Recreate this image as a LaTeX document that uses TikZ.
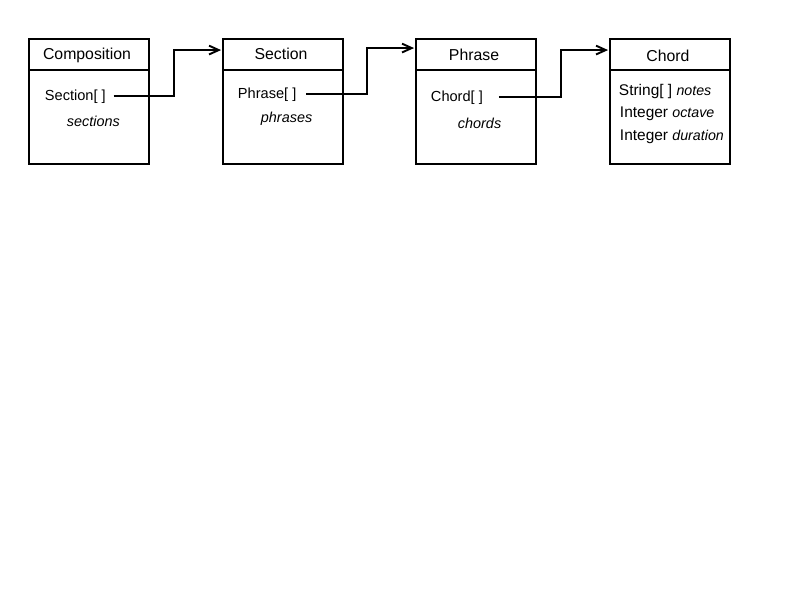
\documentclass[tikz,border=0pt]{standalone}
\usepackage{fontspec}
\setmainfont{Liberation Sans}
\usetikzlibrary{arrows.meta,calc}
\newcommand\nm[1]{{\fontsize{8.1}{10}\selectfont\itshape #1}}

\begin{document}
\begin{tikzpicture}[x=0.02cm,y=-0.02cm,>={Straight Barb[length=5.5pt,width=5pt]},line width=1.1pt,
    box/.style={draw,minimum width=2.4cm,minimum height=2.5cm,inner sep=0pt},
    title/.style={font=\fontsize{9}{11}\selectfont},
    field/.style={anchor=west,inner sep=0pt,font=\fontsize{8.3}{10}\selectfont},
    var/.style={field,font=\fontsize{8.2}{10}\selectfont\itshape},
    attr/.style={anchor=west,inner sep=0pt,font=\fontsize{8.8}{11}\selectfont}]
    \path (0,0) rectangle (800,600);

    % the four classes
    \foreach \x/\n/\t/\y in {89/comp/Composition/55, 283/sect/Section/54, 476/phr/Phrase/55, 670/chd/Chord/56}{
      \node[box] (\n) at (\x,101.5) {};
      \node[title] (\n-t) at (\x-2,\y) {\t};
      \draw (\n.west |- 0,70) -- ++(122,0);
    }

    \node[field] (f1) at (44,97) {Section[ ]};
    \node[var] (v1) at (66,121) {sections};
    \node[field] (f2) at (237,95) {Phrase[ ]};
    \node[var] (v2) at (260,119) {phrases};
    \node[field] (f3) at (430,98) {Chord[ ]};
    \node[var] (v3) at (457,123) {chords};

    \node[attr] (a1) at (618,91) {String[ ] \nm{notes}};
    \node[attr] (a2) at (619,114) {Integer \nm{octave}};
    \node[attr] (a3) at (619,137) {Integer \nm{duration}};

    % links
    \foreach \f/\b/\g/\t in {f1/sect/7/12, f2/phr/9/10, f3/chd/15/12}{
      \draw[->] ($(\f.east)+(\g,-1)$) -| ($(\b.north west)+(-48,\t)$) -- ($(\b.north west)+(-1,\t)$);
    }

  \end{tikzpicture}
\end{document}
